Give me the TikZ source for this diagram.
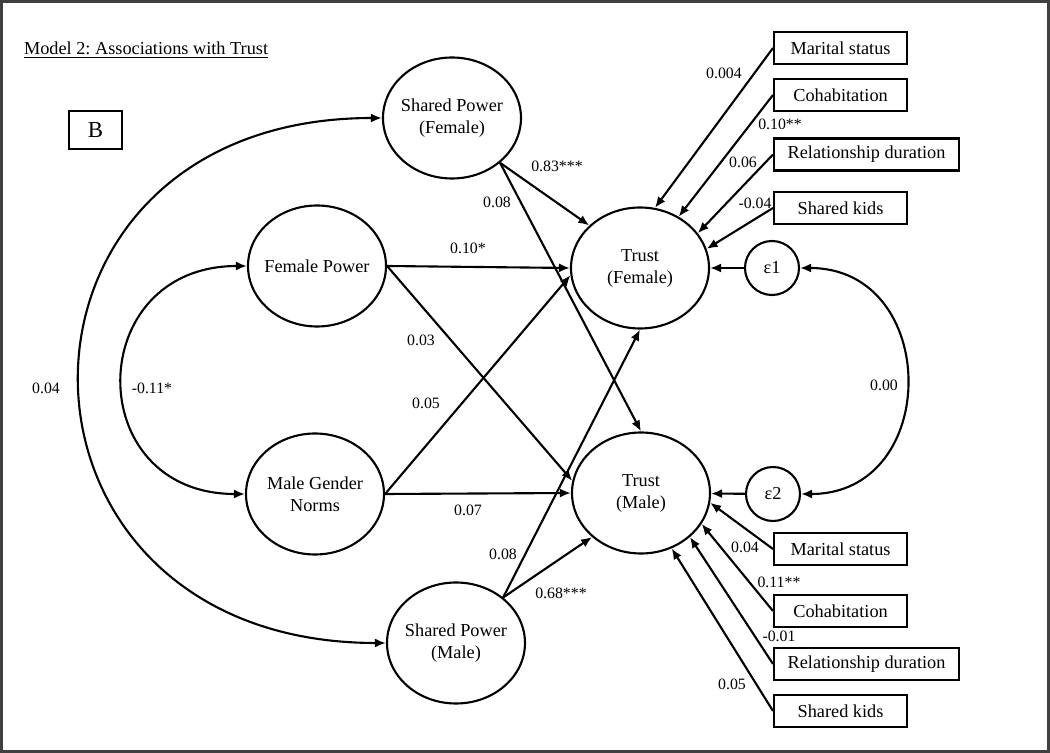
\documentclass[tikz,border=0pt]{standalone}
\usepackage{fontspec}
\setmainfont{Liberation Serif}
\usetikzlibrary{arrows.meta,shapes.geometric}
\frenchspacing

\begin{document}
\begin{tikzpicture}[
    >={Latex[length=2.2mm,width=1.8mm]},
    line width=1.2pt,
    latent/.style={ellipse, draw, minimum width=2.76cm, minimum height=2.42cm, inner xsep=-0.1cm, inner ysep=0pt, align=center, font=\fontsize{10.4}{12.5}\selectfont},
    err/.style={circle, draw, minimum size=1.08cm, inner sep=0pt, font=\fontsize{10.4}{12.5}\selectfont},
    ctrl/.style={rectangle, draw, anchor=west, minimum width=2.66cm, minimum height=0.64cm, inner sep=0pt, font=\fontsize{10.4}{12.5}\selectfont},
    coef/.style={inner sep=1pt, font=\fontsize{9}{11}\selectfont}
]
    \useasboundingbox (0,0) rectangle (21,15.06);
    % frame
    \draw[black!75, line width=1.2pt] (0.03,0.03) rectangle (20.97,15.03);
    \node[anchor=base west, inner sep=0pt, font=\fontsize{10.4}{12.5}\selectfont] (title) at (0.46,13.96) {\underline{Model 2: Associations with Trust}};
    \node[draw, line width=0.7pt, minimum width=1.06cm, minimum height=0.76cm, font=\fontsize{13}{15}\selectfont] (panel) at (1.91,12.46) {B};
    % latent variables
    \node[latent] (spf) at (9.04,12.70) {Shared Power\\(Female)};
    \node[latent] (fp) at (6.34,9.74) {Female Power};
    \node[latent] (mgn) at (6.30,5.18) {Male Gender\\Norms};
    \node[latent] (spm) at (9.12,2.20) {Shared Power\\(Male)};
    \node[latent] (tf) at (12.80,9.70) {Trust\\(Female)};
    \node[latent] (tm) at (12.82,5.20) {Trust\\(Male)};
    \node[err] (e1) at (15.44,9.70) {ε1};
    \node[err] (e2) at (15.46,5.18) {ε2};
    % controls
    \node[ctrl] (ms1) at (15.46,14.10) {Marital status};
    \node[ctrl] (co1) at (15.46,13.16) {Cohabitation};
    \node[ctrl, minimum width=3.70cm] (rd1) at (15.46,11.97) {Relationship duration};
    \node[ctrl] (sk1) at (15.46,10.90) {Shared kids};
    \node[ctrl] (ms2) at (15.46,4.08) {Marital status};
    \node[ctrl] (co2) at (15.46,2.84) {Cohabitation};
    \node[ctrl, minimum width=3.70cm] (rd2) at (15.46,1.78) {Relationship duration};
    \node[ctrl] (sk2) at (15.46,0.84) {Shared kids};
    % covariances
    \draw[<->] (spf.west) to[out=180,in=180,looseness=1.97] (spm.west);
    \draw[<->] (fp.west) to[out=180,in=180,looseness=1.84] (mgn.west);
    \draw[<->] (e1.east) to[out=0,in=0,looseness=1.59] (e2.east);
    % paths
    \draw[->] (spf.-43) -- (tf.140);
    \draw[->] (spf.-43) -- (tm.north);
    \draw[->] (fp.east) -- (tf.west);
    \draw[->] (fp.east) -- (tm.170);
    \draw[->] (mgn.east) -- (tf.186);
    \draw[->] (mgn.east) -- (tm.west);
    \draw[->] (spm.44) -- (tf.south);
    \draw[->] (spm.44) -- (tm.222);
    \draw[->] (e1) -- (tf);
    \draw[->] (e2) -- (tm);
    \draw[->] (ms1.west) -- (tf.76);
    \draw[->] (co1.west) -- (tf.53);
    \draw[->] (rd1.west) -- (tf.31);
    \draw[->] (sk1.west) -- (tf.16);
    \draw[->] (ms2.west) -- (tm.-8);
    \draw[->] (co2.west) -- (tm.-27);
    \draw[->] (rd2.west) -- (tm.-42);
    \draw[->] (sk2.west) -- (tm.-61);
    % coefficients
    \node[coef] (c1) at (0.92,7.30) {0.04};
    \node[coef] (c2) at (3.04,7.30) {-0.11*};
    \node[coef] (c3) at (9.36,10.10) {0.10*};
    \node[coef] (c4) at (8.42,8.26) {0.03};
    \node[coef] (c5) at (8.52,7.00) {0.05};
    \node[coef] (c6) at (9.36,4.86) {0.07};
    \node[coef] (c7) at (11.14,11.74) {0.83***};
    \node[coef] (c8) at (9.94,11.02) {0.08};
    \node[coef] (c9) at (10.06,3.98) {0.08};
    \node[coef] (c10) at (11.22,3.20) {0.68***};
    \node[coef] (c11) at (14.48,13.60) {0.004};
    \node[coef] (c12) at (15.60,12.58) {0.10**};
    \node[coef] (c13) at (14.86,11.82) {0.06};
    \node[coef] (c14) at (15.10,11.00) {-0.04};
    \node[coef] (c15) at (17.68,7.36) {0.00};
    \node[coef] (c16) at (14.90,4.12) {0.04};
    \node[coef] (c17) at (15.58,3.42) {0.11**};
    \node[coef] (c18) at (15.58,2.34) {-0.01};
    \node[coef] (c19) at (14.64,1.38) {0.05};
\end{tikzpicture}
\end{document}
